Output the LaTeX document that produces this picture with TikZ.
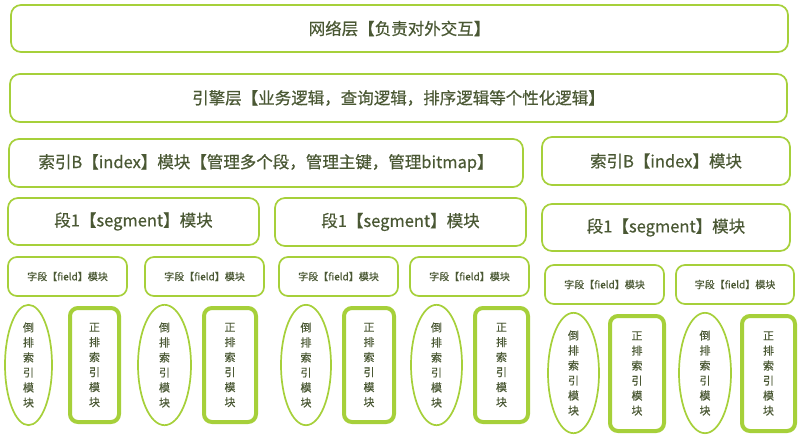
\documentclass[tikz,border=0pt]{standalone}
\usepackage{fontspec}
\setmainfont{Noto Sans CJK SC}[FakeBold=0.5]
\usetikzlibrary{shapes.geometric}
\definecolor{bordergreen}{RGB}{166,208,58}
\definecolor{textgreen}{RGB}{74,88,52}
\tikzset{
  box/.style={draw=bordergreen, line width=1.7pt, rounded corners=10pt, text=textgreen, inner sep=0pt},
  bigtext/.style={font=\fontsize{16.5}{20}\selectfont},
  fieldbox/.style={box, rounded corners=9pt, font=\fontsize{10}{12}\selectfont},
  invbox/.style={draw=bordergreen, line width=1.7pt, ellipse, text=textgreen, inner sep=0pt, align=center, font=\fontsize{11}{15}\selectfont},
  fwdbox/.style={draw=bordergreen, line width=4pt, rounded corners=8pt, text=textgreen, inner sep=0pt, align=center, font=\fontsize{11}{15}\selectfont},
}
\newcommand{\vtxtA}{倒\\排\\索\\引\\模\\块}
\newcommand{\vtxtB}{正\\排\\索\\引\\模\\块}
\begin{document}
\begin{tikzpicture}[x=1pt,y=-1pt]
\useasboundingbox[fill=white] (0,0) rectangle (800,437);
% layers
\node[box,bigtext,minimum width=777pt,minimum height=47pt] (net) at (399.5,28.5) {网络层【负责对外交互】};
\node[box,bigtext,minimum width=777pt,minimum height=48pt] (eng) at (398.5,98) {引擎层【业务逻辑，查询逻辑，排序逻辑等个性化逻辑】};
\node[box,bigtext,minimum width=514pt,minimum height=48pt] (idxL) at (266,163) {索引B【index】模块【管理多个段，管理主键，管理bitmap】};
\node[box,bigtext,minimum width=248pt,minimum height=48pt] (idxR) at (666,161) {索引B【index】模块};
% segments
\node[box,bigtext,minimum width=251pt,minimum height=47pt] (segA) at (133.5,221.5) {段1【segment】模块};
\node[box,bigtext,minimum width=251pt,minimum height=48pt] (segB) at (400.5,222) {段1【segment】模块};
\node[box,bigtext,minimum width=248pt,minimum height=47pt] (segC) at (666,227.5) {段1【segment】模块};
% fields
\node[fieldbox,minimum width=119pt,minimum height=39pt] (f1) at (67.5,276.5) {字段【field】模块};
\node[fieldbox,minimum width=119pt,minimum height=39pt] (f2) at (204.5,276.5) {字段【field】模块};
\node[fieldbox,minimum width=119pt,minimum height=39pt] (f3) at (338.5,276.5) {字段【field】模块};
\node[fieldbox,minimum width=119pt,minimum height=39pt] (f4) at (469.5,276.5) {字段【field】模块};
\node[fieldbox,minimum width=119pt,minimum height=39pt] (f5) at (604.5,284.5) {字段【field】模块};
\node[fieldbox,minimum width=118pt,minimum height=39pt] (f6) at (735,284.5) {字段【field】模块};
% inverted index (ellipses)
\node[invbox,minimum width=47pt,minimum height=114pt] (e1) at (28.5,365) {\vtxtA};
\node[invbox,minimum width=53pt,minimum height=114pt] (e2) at (164.5,365) {\vtxtA};
\node[invbox,minimum width=50pt,minimum height=114pt] (e3) at (306,365) {\vtxtA};
\node[invbox,minimum width=51pt,minimum height=114pt] (e4) at (436.5,365) {\vtxtA};
\node[invbox,minimum width=51pt,minimum height=116pt] (e5) at (573.5,373) {\vtxtA};
\node[invbox,minimum width=52pt,minimum height=116pt] (e6) at (705,373) {\vtxtA};
% forward index (thick rects)
\node[fwdbox,minimum width=49pt,minimum height=114pt] (r1) at (94.5,365) {\vtxtB};
\node[fwdbox,minimum width=52pt,minimum height=114pt] (r2) at (230,365) {\vtxtB};
\node[fwdbox,minimum width=50pt,minimum height=114pt] (r3) at (369,365) {\vtxtB};
\node[fwdbox,minimum width=53pt,minimum height=114pt] (r4) at (501.5,365) {\vtxtB};
\node[fwdbox,minimum width=54pt,minimum height=115pt] (r5) at (637,373.5) {\vtxtB};
\node[fwdbox,minimum width=53pt,minimum height=115pt] (r6) at (768.5,373.5) {\vtxtB};
\end{tikzpicture}
\end{document}
